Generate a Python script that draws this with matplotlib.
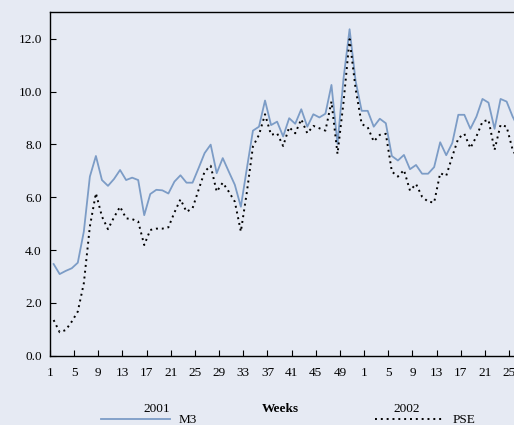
import numpy as np
import matplotlib
matplotlib.use('Agg')
import matplotlib.pyplot as plt

# weekly values, 2001 week 1 .. 2002 week 26
m3 = [3.47, 3.09, 3.21, 3.31, 3.52, 4.70, 6.78, 7.56, 6.65, 6.43,
      6.69, 7.03, 6.65, 6.74, 6.65, 5.32, 6.12, 6.28, 6.26, 6.14,
      6.59, 6.83, 6.55, 6.55, 7.10, 7.67, 7.99, 6.91, 7.48, 6.97,
      6.47, 5.64, 7.10, 8.52, 8.67, 9.66, 8.73, 8.86, 8.30, 8.99,
      8.78, 9.33, 8.67, 9.14, 9.02, 9.16, 10.25, 8.02, 10.50, 12.36,
      10.40, 9.27, 9.27, 8.67, 8.97, 8.80, 7.56, 7.39, 7.60, 7.06,
      7.22, 6.89, 6.89, 7.14, 8.08, 7.59, 8.05, 9.12, 9.12, 8.59,
      9.05, 9.72, 9.58, 8.59, 9.72, 9.62, 9.05, 8.60]
pse = [1.35, 0.89, 0.97, 1.29, 1.67, 2.74, 4.89, 6.15, 5.27, 4.79,
       5.24, 5.64, 5.20, 5.17, 5.08, 4.19, 4.76, 4.81, 4.81, 4.86,
       5.42, 5.92, 5.45, 5.58, 6.28, 6.97, 7.19, 6.21, 6.55, 6.21,
       5.83, 4.70, 6.20, 7.92, 8.36, 9.14, 8.36, 8.42, 7.94, 8.65,
       8.42, 8.95, 8.42, 8.70, 8.61, 8.52, 9.62, 7.64, 9.60, 11.98,
       10.10, 8.77, 8.65, 8.11, 8.36, 8.40, 6.97, 6.78, 7.03, 6.25,
       6.50, 6.02, 5.83, 5.80, 6.91, 6.81, 7.54, 8.23, 8.40, 7.86,
       8.30, 8.86, 8.93, 7.79, 8.74, 8.67, 7.79, 7.40]

tick_labels = ['1', '5', '9', '13', '17', '21', '25', '29', '33', '37', '41', '45', '49',
               '1', '5', '9', '13', '17', '21', '25']
tick_pos = list(range(0, 52, 4)) + list(range(52, 80, 4))

bg = '#E6EAF3'
plt.rcParams['font.family'] = ['Liberation Serif', 'DejaVu Serif']

fig = plt.figure(figsize=(5.14, 4.25), dpi=100, facecolor=bg)
px = 6.04 / 514  # one week in figure fraction
ax = fig.add_axes([50 / 514, 69.3 / 425, 78 * px, 343.4 / 425], facecolor=bg)

x = np.arange(len(m3)) + 0.6
ax.plot(x, m3, color='#7C9CC6', lw=1.3, label='M3')
ax.plot(x, pse, color='black', lw=1.4, ls=(0, (1, 2)), label='PSE')

ax.set_xlim(0, 78)
ax.set_ylim(0, 13)
ax.set_xticks(tick_pos)
ax.set_xticklabels(tick_labels)
ax.set_yticks(np.arange(0, 13, 2))
ax.set_yticklabels(['%.1f' % v for v in np.arange(0, 13, 2)])
ax.tick_params(direction='in', length=4, width=0.8, labelsize=9.5, colors='black')
ax.tick_params(axis='x', pad=8)
ax.tick_params(axis='y', pad=6)
ax.spines['right'].set_visible(False)
for s in ['left', 'bottom', 'top']:
    ax.spines[s].set_linewidth(1.0)

fig.text(157 / 514, 1 - 409 / 425, '2001', ha='center', va='center', fontsize=9.5)
fig.text(280 / 514, 1 - 409 / 425, 'Weeks', ha='center', va='center', fontsize=9.5, fontweight='bold')
fig.text(407 / 514, 1 - 409 / 425, '2002', ha='center', va='center', fontsize=9.5)

fig.legend(loc='center', bbox_to_anchor=(288 / 514, 1 - 420 / 425), ncol=2, frameon=False,
           fontsize=9.5, handlelength=5.3, columnspacing=13.5, handletextpad=0.6,
           borderpad=0, borderaxespad=0)

fig.savefig('out.png', dpi=100, facecolor=bg)
